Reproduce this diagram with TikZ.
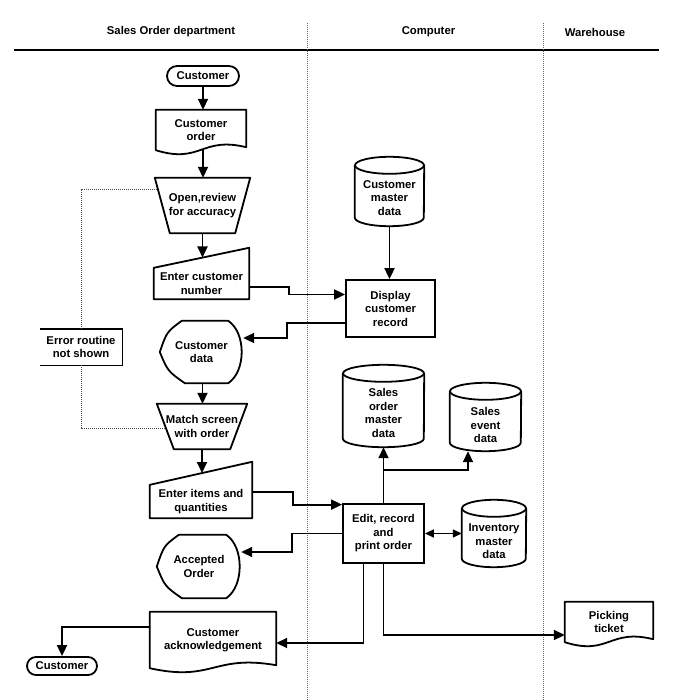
\documentclass[tikz,border=0pt]{standalone}
\usepackage{fontspec}
\setmainfont{Liberation Sans}
\usetikzlibrary{arrows.meta,calc}
\tikzset{
 lbl/.style={font=\fontsize{11.3}{13.5}\selectfont\bfseries, align=center, inner sep=0pt},
 shp/.style={line width=1.8pt, line join=round},
 flow/.style={line width=1.8pt, -{Triangle[length=11pt,width=10pt]}},
 dblflow/.style={line width=1.4pt, {Triangle[length=9pt,width=8pt]}-{Triangle[length=9pt,width=8pt]}},
 errline/.style={line width=1pt, densely dotted, black!70},
 lane/.style={line width=1pt, densely dotted, black!60},
}
\newcommand\drawcyl[2]{%
 \draw[shp] ([yshift=-8.5pt]#1.north) ellipse [x radius=#2pt, y radius=8.5pt];
 \draw[shp] ([yshift=-8.5pt]#1.north west) -- ([yshift=8.5pt]#1.south west) arc[start angle=180, end angle=360, x radius=#2pt, y radius=8.5pt] -- ([yshift=-8.5pt]#1.north east);}
\newcommand\drawdoc[1]{%
 \draw[shp] (#1.south west) -- (#1.north west) -- (#1.north east) -- ([yshift=3pt]#1.south east) .. controls ([yshift=14pt]#1.south) and ([yshift=-14pt]#1.south) .. (#1.south west) -- cycle;}
\newcommand\drawtrap[2]{%
 \draw[shp] (#1.north west) -- (#1.north east) -- ([xshift=-#2pt]#1.south east) -- ([xshift=#2pt]#1.south west) -- cycle;}
\newcommand\drawmin[2]{%
 \draw[shp] (#1.north west) -- ([yshift=#2pt]#1.north east) -- (#1.south east) -- (#1.south west) -- cycle;}
\newcommand\drawdisp[1]{%
 \draw[shp] ([xshift=22pt]#1.north west) -- ([xshift=-15pt]#1.north east) .. controls ([xshift=3pt,yshift=-12pt]#1.north east) and ([xshift=3pt,yshift=12pt]#1.south east) .. ([xshift=-15pt]#1.south east) -- ([xshift=25pt]#1.south west) .. controls ([xshift=8pt,yshift=12pt]#1.south west) .. (#1.west) .. controls ([xshift=7pt,yshift=-11pt]#1.north west) .. cycle;}
\begin{document}
\begin{tikzpicture}[x=1pt,y=-1pt]
\useasboundingbox (0,0) rectangle (682,700);
% header
\node[lbl] (h1) at (171,32) {Sales Order department};
\node[lbl] (h2) at (428.5,32) {Computer};
\node[lbl] (h3) at (595,32) {Warehouse};
\draw[line width=2pt] (14,50) -- (659,50);
\draw[lane] (307,23) -- (307,700);
\draw[lane] (543,23) -- (543,700);

% nodes
\node[lbl, draw, line width=1.8pt, rounded corners=10pt, minimum width=72pt, minimum height=20pt] (cust1) at (203,76) {Customer};
\node[lbl, minimum width=90pt, minimum height=40pt] (co) at (201,130) {Customer\\order};
\drawdoc{co}
\node[lbl, minimum width=95pt, minimum height=55pt] (orv) at (202.5,205.5) {Open,review\\for accuracy};
\drawtrap{orv}{15}
\node[lbl, minimum width=95pt, minimum height=31pt] (ecn) at (201.5,283.5) {Enter customer\\number};
\drawmin{ecn}{20}
\node[lbl, draw, line width=1.8pt, minimum width=89pt, minimum height=57pt] (disp) at (390.5,308.5) {Display\\customer\\record};
\node[lbl, minimum width=83pt, minimum height=62pt] (cdata) at (201.5,352) {Customer\\data};
\drawdisp{cdata}
\node[minimum width=69pt, minimum height=69pt, inner sep=0pt] (cmd) at (389.5,191.5) {};
\drawcyl{cmd}{34.5}
\node[lbl] (cmdT) at (389.5,198) {Customer\\master\\data};
\node[lbl, minimum width=90pt, minimum height=45pt] (match) at (202,426.5) {Match screen\\with order};
\drawtrap{match}{17}
\node[lbl, minimum width=102pt, minimum height=33pt] (eit) at (201,501.5) {Enter items and\\quantities};
\drawmin{eit}{23}
\node[lbl, draw, line width=1.8pt, minimum width=81pt, minimum height=59pt] (edit) at (383.5,533.5) {Edit, record\\and\\print order};
\node[lbl, minimum width=84pt, minimum height=63pt] (acc) at (199,566.5) {Accepted\\Order};
\drawdisp{acc}
\node[minimum width=81pt, minimum height=82pt, inner sep=0pt] (som) at (383.5,406) {};
\drawcyl{som}{40.5}
\node[lbl] (somT) at (383.5,413) {Sales\\order\\master\\data};
\node[minimum width=71pt, minimum height=68pt, inner sep=0pt] (sev) at (485.5,417) {};
\drawcyl{sev}{35.5}
\node[lbl] (sevT) at (485.5,425) {Sales\\event\\data};
\node[minimum width=64pt, minimum height=67pt, inner sep=0pt] (inv) at (494,533.5) {};
\drawcyl{inv}{32}
\node[lbl] (invT) at (494,541.5) {Inventory\\master\\data};
\node[lbl, minimum width=88pt, minimum height=40pt] (pick) at (609,622) {Picking\\ticket};
\drawdoc{pick}
\node[lbl, minimum width=126pt, minimum height=56pt] (ack) at (213,640) {Customer\\acknowledgement};
\drawdoc{ack}
\node[lbl, draw, line width=1.8pt, rounded corners=9pt, minimum width=70pt, minimum height=18pt] (cust2) at (62,666) {Customer};
\node[lbl, minimum width=82pt, minimum height=36pt] (err) at (81,347) {Error routine\\not shown};
\draw[line width=1.4pt] (err.north west) -- (err.north east) -- (err.south east) -- (err.south west);

% error dotted lines
\coordinate (orL) at (157.5,190);
\coordinate (mtL) at (165,428);
\draw[errline] (err.north) |- (orL);
\draw[errline] (err.south) |- (mtL);

% connectors
\draw[flow] (cust1.south) -- (cust1.south |- co.north);
\draw[flow] ([xshift=2pt]co.south) -- ([xshift=2pt]co.south |- orv.north);
\coordinate (ecnTop) at (202.5,257.5);
\draw[flow] (orv.south) -- (ecnTop);
\draw[flow] ([yshift=-3.5pt]ecn.east) -- ++(40,0) |- ([yshift=14pt]disp.west);
\draw[flow] (cmd.south) -- (cmd.south |- disp.north);
\draw[flow] ([yshift=-14.5pt]disp.west) -- ++(-58,0) |- ([yshift=14pt]cdata.east);
\draw[flow] ([xshift=1pt]cdata.south) -- ([xshift=1pt]cdata.south |- match.north);
\coordinate (eitTop) at (202,473);
\draw[flow] (match.south) -- (eitTop);
\draw[flow] ([yshift=9.5pt]eit.east) -- ++(41,0) |- ([yshift=-1.5pt]edit.north west);
\draw[flow] (edit.west) -- ++(-50,0) |- ([yshift=14.5pt]acc.east);
\draw[flow] (edit.north) -- (som.south);
\coordinate (br) at (383.5,470);
\draw[flow] (br) -| ([xshift=-17.5pt]sev.south);
\draw[dblflow] (edit.east) -- (inv.west);
\draw[flow] ([xshift=-20pt]edit.south) |- ([yshift=-3pt]ack.east);
\draw[flow] (edit.south) |- ([yshift=-13pt]pick.west);
\draw[flow] ([yshift=13pt]ack.west) -| (cust2.north);
\end{tikzpicture}
\end{document}
